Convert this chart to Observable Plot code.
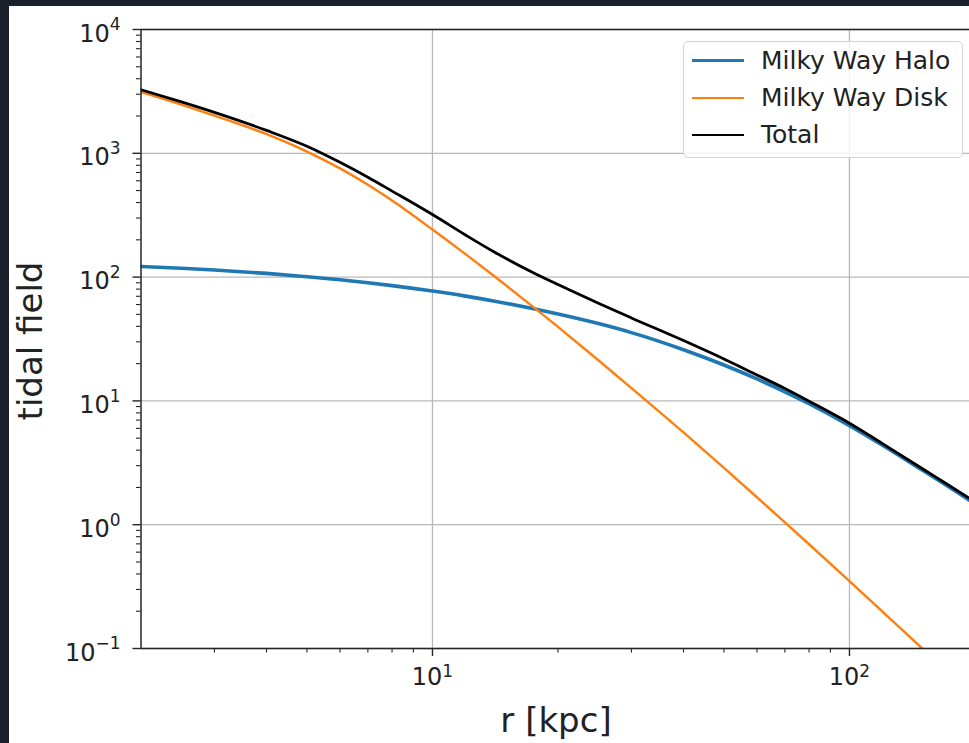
<!DOCTYPE html>
<html><head><meta charset="utf-8">
<script src="https://cdn.jsdelivr.net/npm/d3@7"></script>
<script src="https://cdn.jsdelivr.net/npm/@observablehq/plot@0.6"></script>
<style>
html,body{margin:0;padding:0;overflow:hidden;background:#1b202c;width:969px;height:743px;}
#panel{position:absolute;left:9px;top:6px;width:980px;height:760px;background:#fff;}
#chart{position:absolute;left:0;top:0;width:980px;}
#legend{position:absolute;left:683px;top:41px;width:280px;height:117px;box-sizing:border-box;border:1.3px solid #d4d4d4;border-radius:5px;background:rgba(255,255,255,0.8);font-family:"DejaVu Sans";font-size:25px;color:#222;}
.row{position:absolute;left:8px;height:30px;display:flex;align-items:center;white-space:nowrap;}
.sw{width:52px;height:0;margin-right:17px;}
</style></head><body>
<div id="panel"></div><div id="chart"></div><div id="legend"></div>
<script>
// radius [kpc]
const r = [2, 2.5, 3, 4, 5, 6, 7, 8, 10, 12, 14, 17.5, 20, 25, 30, 40, 50, 60, 70, 80, 100, 120, 150, 170, 200];
// tidal field values
const halo  = [121.9, 117.9, 114.1, 107.1, 100.8, 95.1, 90.0, 85.3, 77.1, 70.2, 64.2, 55.4, 50.3, 42.1, 35.6, 25.9, 19.5, 15.04, 11.85, 9.48, 6.31, 4.38, 2.74, 2.10, 1.47];
const disk  = [3126, 2474, 2017, 1428, 1033, 755, 557, 415, 242, 153.2, 103, 56.9, 39.6, 21.3, 12.7, 5.56, 2.88, 1.666, 1.045, 0.695, 0.35, 0.1987, 0.099, 0.0668, 0.040];
const total = [3260, 2600, 2140, 1530, 1140, 845, 640, 495, 320, 219, 161, 108, 87, 61.5, 46.8, 30.7, 21.8, 16.2, 12.6, 9.95, 6.6, 4.52, 2.82, 2.16, 1.53];

const seriesNames  = ["Milky Way Halo", "Milky Way Disk", "Total"];
const seriesColors = ["#1f77b4", "#ff7f0e", "#000000"];
const seriesWidths = [3.6, 2.4, 2.8];

const xMajor = [10, 100];
const xExp = ["1", "2"];
const xMinor = [3, 4, 5, 6, 7, 8, 9, 20, 30, 40, 50, 60, 70, 80, 90];
const yMajor = [0.1, 1, 10, 100, 1000, 10000];
const yExp = ["\u22121", "0", "1", "2", "3", "4"];
const yMinor = [0.2,0.3,0.4,0.5,0.6,0.7,0.8,0.9, 2,3,4,5,6,7,8,9, 20,30,40,50,60,70,80,90, 200,300,400,500,600,700,800,900, 2000,3000,4000,5000,6000,7000,8000,9000];

const xLabel = "r [kpc]";
const yLabel = "tidal field";

const ink = "#222";
const spine = "#262626";
const base = 24, sup = 17;
const expWidth = s => [...s].reduce((a, c) => a + (c === "\u2212" ? 0.838 : 0.636), 0) * sup;

const series = [halo, disk, total].map(vals => r.map((rv, i) => ({r: rv, v: vals[i]})));

const lineMarks = series.map((rows, k) =>
  Plot.line(rows, {x: "r", y: "v", stroke: seriesColors[k], strokeWidth: seriesWidths[k], curve: "monotone-x", clip: true}));

const yLabelMarks = yMajor.map((v, i) => {
  const w = expWidth(yExp[i]);
  return [
    Plot.text([v], {y: d => d, frameAnchor: "left", text: () => "10", textAnchor: "end", dx: -20.5 - w, dy: 4.5, fontSize: base, fill: ink}),
    Plot.text([v], {y: d => d, frameAnchor: "left", text: () => yExp[i], textAnchor: "end", dx: -20.5, dy: -4.5, fontSize: sup, fill: ink})
  ];
});
const xLabelMarks = xMajor.map((v, i) => {
  const w = expWidth(xExp[i]);
  const off = (30.5 - w) / 2;
  return [
    Plot.text([v], {x: d => d, frameAnchor: "bottom", text: () => "10", textAnchor: "end", dx: off, dy: 36, fontSize: base, fill: ink}),
    Plot.text([v], {x: d => d, frameAnchor: "bottom", text: () => xExp[i], textAnchor: "start", dx: off, dy: 28, fontSize: sup, fill: ink})
  ];
});

const chart = Plot.plot({
  width: 980, height: 743,
  marginLeft: 140.5, marginRight: 5.5, marginTop: 29, marginBottom: 95,
  x: {type: "log", domain: [2, 200], label: null},
  y: {type: "log", domain: [0.1, 10000], label: null},
  style: {background: "transparent", fontFamily: "DejaVu Sans", color: ink, maxWidth: "none", overflow: "visible"},
  marks: [
    Plot.gridX(xMajor, {stroke: "#b8b8b8", strokeOpacity: 1, strokeWidth: 1.3}),
    Plot.gridY(yMajor, {stroke: "#b8b8b8", strokeOpacity: 1, strokeWidth: 1.3}),
    ...lineMarks,
    Plot.frame({stroke: spine, strokeWidth: 1.5}),
    Plot.axisX(xMajor, {anchor: "bottom", tickSize: 8, tickFormat: () => "", stroke: spine, strokeWidth: 1.4, label: null}),
    Plot.axisX(xMinor, {anchor: "bottom", tickSize: 4.5, tickFormat: () => "", stroke: spine, strokeWidth: 1.1, label: null}),
    Plot.axisY(yMajor, {anchor: "left", tickSize: 8, tickFormat: () => "", stroke: spine, strokeWidth: 1.4, label: null}),
    Plot.axisY(yMinor, {anchor: "left", tickSize: 4.5, tickFormat: () => "", stroke: spine, strokeWidth: 1.1, label: null}),
    ...yLabelMarks,
    ...xLabelMarks,
    Plot.text([yLabel], {frameAnchor: "left", textAnchor: "middle", lineAnchor: "middle", dx: -109.5, dy: 2, rotate: -90, fontSize: 34, fill: ink}),
    Plot.text([xLabel], {frameAnchor: "bottom", textAnchor: "middle", dy: 83, dx: -2, lineAnchor: "bottom", fontSize: 34, fill: ink})
  ]
});
document.getElementById("chart").appendChild(chart);

const legend = document.getElementById("legend");
seriesNames.forEach((name, k) => {
  const row = document.createElement("div");
  row.className = "row";
  row.style.top = (3.7 + 37 * k) + "px";
  const sw = document.createElement("div");
  sw.className = "sw";
  sw.style.borderTop = seriesWidths[k] + "px solid " + seriesColors[k];
  const label = document.createElement("span");
  label.textContent = name;
  row.appendChild(sw);
  row.appendChild(label);
  legend.appendChild(row);
});
</script></body></html>
